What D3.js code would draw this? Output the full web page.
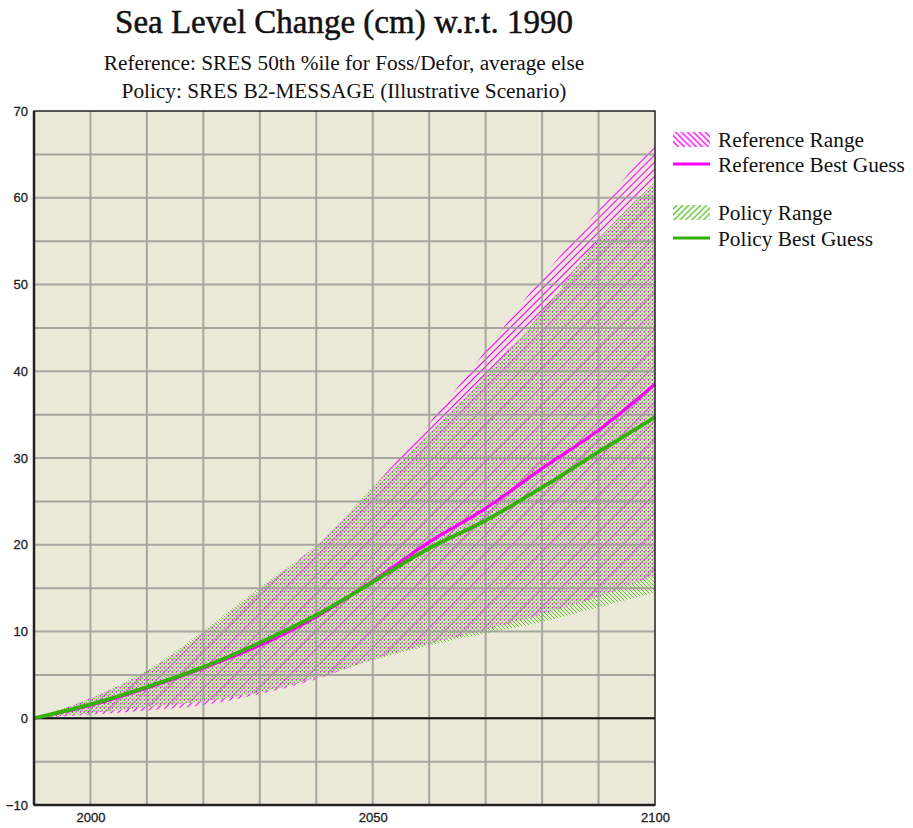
<!DOCTYPE html>
<html><head><meta charset="utf-8">
<script src="https://cdn.jsdelivr.net/npm/d3@7"></script>
<style>body{margin:0;background:#fff}svg{display:block}</style>
</head><body>
<svg id="c" width="913" height="828"></svg>
<script>
const years = [1990,2000,2010,2020,2030,2040,2050,2060,2070,2080,2090,2100];
const refBest = [0,1.5,3.5,5.8,8.4,11.7,15.8,20.3,24.2,28.8,33.2,38.5];
const polBest = [0,1.6,3.6,5.9,8.7,11.9,15.7,19.6,22.8,26.6,30.7,34.7];
const refHigh = [0,2.3,5.4,9.8,14.8,20.0,26.6,34.0,42.4,50.8,58.6,66.5];
const refLow  = [0,0.4,0.9,1.5,2.8,4.5,6.8,8.6,10.2,12.0,14.0,16.5];
const polHigh = [0,2.3,5.5,10.1,15.1,19.9,26.6,32.8,39.5,46.8,55.2,61.8];
const polLow  = [0,0.6,1.3,2.0,3.0,4.7,6.7,8.4,9.8,11.1,12.8,14.5];
const yTicks = [-10,0,10,20,30,40,50,60,70];
const xTicks = [2000,2050,2100];
const titleText = "Sea Level Change (cm) w.r.t. 1990";
const subtitle = ["Reference: SRES 50th %ile for Foss/Defor, average else","Policy: SRES B2-MESSAGE (Illustrative Scenario)"];
const legendItems = [
  {label:"Reference Range", kind:"range", color:"#ff00ff"},
  {label:"Reference Best Guess", kind:"line", color:"#ff00ff"},
  {label:"Policy Range", kind:"range", color:"#5cc42a"},
  {label:"Policy Best Guess", kind:"line", color:"#33b000"}
];

const svg = d3.select("#c");
const x = d3.scaleLinear().domain([1990,2100]).range([34,655]);
const y = d3.scaleLinear().domain([-10,70]).range([805,111]);

const MAG = "#ff00ff", GRN = "#5cc42a", LGR = "#a2d482";
const defs = svg.append("defs");
function lineHatch(id, color, angle, gap, w, op) {
  const p = defs.append("pattern").attr("id", id).attr("patternUnits","userSpaceOnUse")
    .attr("width", gap).attr("height", gap).attr("patternTransform", `rotate(${angle})`);
  p.append("line").attr("x1", gap/2).attr("x2", gap/2).attr("y1", 0).attr("y2", gap)
    .attr("stroke", color).attr("stroke-width", w).attr("stroke-opacity", op || 1);
}
function pixelTile(id, bg, pixels) {
  const p = defs.append("pattern").attr("id", id).attr("patternUnits","userSpaceOnUse")
    .attr("width", 4).attr("height", 4);
  if (bg) p.append("rect").attr("width",4).attr("height",4).attr("fill",bg);
  pixels.forEach(([px,py,c]) => p.append("rect").attr("x",px).attr("y",py).attr("width",1).attr("height",1)
    .attr("fill",c).attr("shape-rendering","crispEdges"));
}
lineHatch("refSparse", MAG, 45, 5, 1.1);
lineHatch("refDark", "#b030b0", 45, 13, 1.2, 0.5);
pixelTile("polTile", null, [[0,0,GRN],[1,1,GRN],[2,2,GRN],[3,3,GRN]]);
pixelTile("overTile", "#e4e6d2", [[0,0,GRN],[1,1,LGR],[2,2,GRN],[3,3,LGR],[3,0,LGR],[1,2,LGR],[0,3,MAG],[2,1,"#e890e8"]]);
lineHatch("refHatchLeg", MAG, -45, 4.2, 1.4);
lineHatch("polHatchLeg", GRN, 45, 4.2, 1.4);

// title
svg.append("text").attr("x", 344).attr("y", 33).attr("text-anchor","middle")
  .attr("font-family","'Liberation Serif', 'Times New Roman', serif")
  .attr("font-size", 33).attr("stroke","#111").attr("stroke-width",0.5).attr("fill","#111").text(titleText);
subtitle.forEach((s,i) => svg.append("text").attr("x", 344).attr("y", 70 + i*28).attr("text-anchor","middle")
  .attr("font-family","'Liberation Serif', 'Times New Roman', serif").attr("font-size", 21.3).attr("fill","#111").text(s));

// plot background
svg.append("rect").attr("x", x(1990)).attr("y", y(70)).attr("width", x(2100)-x(1990)).attr("height", y(-10)-y(70))
  .attr("fill","#ebe9d8");

// bands
const area = (lo, hi) => d3.area().x((d,i)=>x(years[i])).y0((d,i)=>y(lo[i])).y1((d,i)=>y(hi[i])).curve(d3.curveMonotoneX)(years);
defs.append("clipPath").attr("id","refClip").append("path").attr("d", area(refLow, refHigh));
svg.append("path").attr("d", area(refLow, refHigh)).attr("fill","url(#refSparse)");
svg.append("path").attr("d", area(polLow, polHigh)).attr("fill","url(#polTile)");
svg.append("path").attr("d", area(polLow, polHigh)).attr("fill","url(#overTile)").attr("clip-path","url(#refClip)");
svg.append("path").attr("d", area(polLow, polHigh)).attr("fill","url(#refDark)").attr("clip-path","url(#refClip)");

// grid
const g = svg.append("g").attr("opacity", 0.85);
d3.range(-5, 70, 5).forEach(v => g.append("line").attr("x1", x(1990)).attr("x2", x(2100)).attr("y1", y(v)).attr("y2", y(v))
  .attr("stroke","#9c9c98").attr("stroke-width", 2));
d3.range(2000, 2100, 10).forEach(v => g.append("line").attr("x1", x(v)).attr("x2", x(v)).attr("y1", y(70)).attr("y2", y(-10))
  .attr("stroke","#9c9c98").attr("stroke-width", 2));
// zero line
svg.append("line").attr("x1", x(1990)).attr("x2", x(2100)).attr("y1", y(0)).attr("y2", y(0)).attr("stroke","#111").attr("stroke-width",2);

// lines
const line = vals => d3.line().x((d,i)=>x(years[i])).y((d,i)=>y(vals[i])).curve(d3.curveMonotoneX)(years);
svg.append("path").attr("d", line(refBest)).attr("fill","none").attr("stroke",MAG).attr("stroke-width",3.2);
svg.append("path").attr("d", line(polBest)).attr("fill","none").attr("stroke","#33b000").attr("stroke-width",3.8);

// frame
svg.append("rect").attr("x", x(1990)).attr("y", y(70)).attr("width", x(2100)-x(1990)).attr("height", y(-10)-y(70))
  .attr("fill","none").attr("stroke","#222").attr("stroke-width",1.5);
svg.append("line").attr("x1", x(1990)).attr("x2", x(1990)).attr("y1", y(70)).attr("y2", y(-10)).attr("stroke","#222").attr("stroke-width",2.5);
svg.append("line").attr("x1", x(1990)).attr("x2", x(2100)).attr("y1", y(-10)).attr("y2", y(-10)).attr("stroke","#222").attr("stroke-width",2.5);

// axes labels
const yAxis = d3.axisLeft(y).tickValues(yTicks).tickSize(0).tickPadding(6);
const ya = svg.append("g").attr("transform", `translate(${x(1990)},0)`).call(yAxis);
ya.select(".domain").remove();
ya.selectAll("text").attr("font-family","'Liberation Sans', Arial, sans-serif").attr("font-size",13).attr("fill","#222")
  .attr("stroke","#222").attr("stroke-width",0.3);
const xAxis = d3.axisBottom(x).tickValues(xTicks).tickSize(0).tickPadding(8).tickFormat(d3.format("d"));
const xa = svg.append("g").attr("transform", `translate(0,${y(-10)})`).call(xAxis);
xa.select(".domain").remove();
xa.selectAll("text").attr("font-family","'Liberation Sans', Arial, sans-serif").attr("font-size",13).attr("fill","#222")
  .attr("stroke","#222").attr("stroke-width",0.3);

// legend
const legY = [147, 172, 220, 246];
legendItems.forEach((it, i) => {
  const gy = legY[i];
  if (it.kind === "range") {
    svg.append("rect").attr("x", 673).attr("y", gy-15).attr("width", 37).attr("height", 15)
      .attr("fill", i===0 ? "url(#refHatchLeg)" : "url(#polHatchLeg)");
  } else {
    svg.append("line").attr("x1", 673).attr("x2", 710).attr("y1", gy-8).attr("y2", gy-8)
      .attr("stroke", it.color).attr("stroke-width", 3);
  }
  svg.append("text").attr("x", 718).attr("y", gy).attr("font-family","'Liberation Serif', 'Times New Roman', serif")
    .attr("font-size", 21.3).attr("fill","#111").text(it.label);
});
</script>
</body></html>
